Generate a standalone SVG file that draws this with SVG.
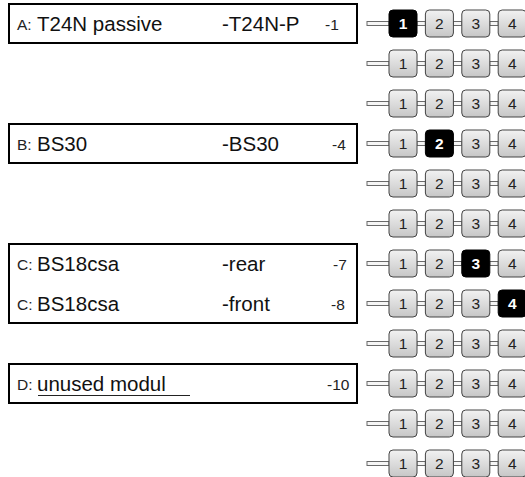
<svg xmlns="http://www.w3.org/2000/svg" width="525" height="477" viewBox="0 0 525 477">
<defs>
<linearGradient id="bg" x1="0" y1="0" x2="0" y2="1">
<stop offset="0" stop-color="#f2f2f2"/>
<stop offset="1" stop-color="#c6c6c6"/>
</linearGradient>
<style>
.box{fill:#fff;stroke:#000;stroke-width:2}
.sm{font-family:"Liberation Sans",Arial,sans-serif;font-size:15.5px;fill:#222}
.lg{font-family:"Liberation Sans",Arial,sans-serif;font-size:20.5px;fill:#111}
.btn{fill:url(#bg);stroke:#444;stroke-width:1}
.sel{fill:#000;stroke:#000;stroke-width:1}
.bn{font-family:"Liberation Sans",Arial,sans-serif;font-size:15.5px;fill:#222;text-anchor:middle}
.bs{font-family:"Liberation Sans",Arial,sans-serif;font-size:15.5px;font-weight:bold;fill:#fff;text-anchor:middle}
.ln{fill:#f6f6f6;stroke:#6a6a6a;stroke-width:1}
</style>
</defs>
<rect width="525" height="477" fill="#fff"/>

<g id="moduleA">
<rect class="box" x="9" y="4" width="348" height="39"/>
<text class="sm" x="17" y="29.5">A:</text>
<text class="lg" x="37" y="30.5">T24N passive</text>
<text class="lg" x="222" y="30.5">-T24N-P</text>
<text class="sm" x="325" y="29.5">-1</text>
</g>
<g id="moduleB">
<rect class="box" x="9" y="124" width="348" height="39"/>
<text class="sm" x="17" y="149.5">B:</text>
<text class="lg" x="37" y="150.5">BS30</text>
<text class="lg" x="222" y="150.5">-BS30</text>
<text class="sm" x="332" y="149.5">-4</text>
</g>
<g id="moduleC">
<rect class="box" x="9" y="244" width="348" height="79"/>
<text class="sm" x="17" y="269.5">C:</text>
<text class="lg" x="37" y="270.5">BS18csa</text>
<text class="lg" x="222" y="270.5">-rear</text>
<text class="sm" x="333" y="269.5">-7</text>
<text class="sm" x="17" y="309.5">C:</text>
<text class="lg" x="37" y="310.5">BS18csa</text>
<text class="lg" x="222" y="310.5">-front</text>
<text class="sm" x="331" y="309.5">-8</text>
</g>
<g id="moduleD">
<rect class="box" x="9" y="364" width="348" height="39"/>
<text class="sm" x="17" y="389.5">D:</text>
<text class="lg" x="37" y="390.5">unused modul</text>
<line x1="38" y1="395.5" x2="190" y2="395.5" stroke="#222" stroke-width="1"/>
<text class="sm" x="327" y="389.5">-10</text>
</g>

<g id="connectors">
<rect class="ln" x="367" y="21.5" width="22" height="4"/><rect class="ln" x="417" y="21.5" width="8.4" height="4"/><rect class="ln" x="453.4" y="21.5" width="8.4" height="4"/><rect class="ln" x="489.8" y="21.5" width="8.4" height="4"/>
<rect class="ln" x="367" y="61.5" width="22" height="4"/><rect class="ln" x="417" y="61.5" width="8.4" height="4"/><rect class="ln" x="453.4" y="61.5" width="8.4" height="4"/><rect class="ln" x="489.8" y="61.5" width="8.4" height="4"/>
<rect class="ln" x="367" y="101.5" width="22" height="4"/><rect class="ln" x="417" y="101.5" width="8.4" height="4"/><rect class="ln" x="453.4" y="101.5" width="8.4" height="4"/><rect class="ln" x="489.8" y="101.5" width="8.4" height="4"/>
<rect class="ln" x="367" y="141.5" width="22" height="4"/><rect class="ln" x="417" y="141.5" width="8.4" height="4"/><rect class="ln" x="453.4" y="141.5" width="8.4" height="4"/><rect class="ln" x="489.8" y="141.5" width="8.4" height="4"/>
<rect class="ln" x="367" y="181.5" width="22" height="4"/><rect class="ln" x="417" y="181.5" width="8.4" height="4"/><rect class="ln" x="453.4" y="181.5" width="8.4" height="4"/><rect class="ln" x="489.8" y="181.5" width="8.4" height="4"/>
<rect class="ln" x="367" y="221.5" width="22" height="4"/><rect class="ln" x="417" y="221.5" width="8.4" height="4"/><rect class="ln" x="453.4" y="221.5" width="8.4" height="4"/><rect class="ln" x="489.8" y="221.5" width="8.4" height="4"/>
<rect class="ln" x="367" y="261.5" width="22" height="4"/><rect class="ln" x="417" y="261.5" width="8.4" height="4"/><rect class="ln" x="453.4" y="261.5" width="8.4" height="4"/><rect class="ln" x="489.8" y="261.5" width="8.4" height="4"/>
<rect class="ln" x="367" y="301.5" width="22" height="4"/><rect class="ln" x="417" y="301.5" width="8.4" height="4"/><rect class="ln" x="453.4" y="301.5" width="8.4" height="4"/><rect class="ln" x="489.8" y="301.5" width="8.4" height="4"/>
<rect class="ln" x="367" y="341.5" width="22" height="4"/><rect class="ln" x="417" y="341.5" width="8.4" height="4"/><rect class="ln" x="453.4" y="341.5" width="8.4" height="4"/><rect class="ln" x="489.8" y="341.5" width="8.4" height="4"/>
<rect class="ln" x="367" y="381.5" width="22" height="4"/><rect class="ln" x="417" y="381.5" width="8.4" height="4"/><rect class="ln" x="453.4" y="381.5" width="8.4" height="4"/><rect class="ln" x="489.8" y="381.5" width="8.4" height="4"/>
<rect class="ln" x="367" y="421.5" width="22" height="4"/><rect class="ln" x="417" y="421.5" width="8.4" height="4"/><rect class="ln" x="453.4" y="421.5" width="8.4" height="4"/><rect class="ln" x="489.8" y="421.5" width="8.4" height="4"/>
<rect class="ln" x="367" y="461.5" width="22" height="4"/><rect class="ln" x="417" y="461.5" width="8.4" height="4"/><rect class="ln" x="453.4" y="461.5" width="8.4" height="4"/><rect class="ln" x="489.8" y="461.5" width="8.4" height="4"/>
</g>

<g id="row1">
<g id="r1b1"><rect class="sel" x="389" y="10" width="28" height="27" rx="4"/><text class="bs" x="403" y="29">1</text></g>
<g id="r1b2"><rect class="btn" x="425.4" y="10" width="28" height="27" rx="4"/><text class="bn" x="439.4" y="29">2</text></g>
<g id="r1b3"><rect class="btn" x="461.8" y="10" width="28" height="27" rx="4"/><text class="bn" x="475.8" y="29">3</text></g>
<g id="r1b4"><rect class="btn" x="498.2" y="10" width="28" height="27" rx="4"/><text class="bn" x="512.2" y="29">4</text></g>
</g>
<g id="row2">
<g id="r2b1"><rect class="btn" x="389" y="50" width="28" height="27" rx="4"/><text class="bn" x="403" y="69">1</text></g>
<g id="r2b2"><rect class="btn" x="425.4" y="50" width="28" height="27" rx="4"/><text class="bn" x="439.4" y="69">2</text></g>
<g id="r2b3"><rect class="btn" x="461.8" y="50" width="28" height="27" rx="4"/><text class="bn" x="475.8" y="69">3</text></g>
<g id="r2b4"><rect class="btn" x="498.2" y="50" width="28" height="27" rx="4"/><text class="bn" x="512.2" y="69">4</text></g>
</g>
<g id="row3">
<g id="r3b1"><rect class="btn" x="389" y="90" width="28" height="27" rx="4"/><text class="bn" x="403" y="109">1</text></g>
<g id="r3b2"><rect class="btn" x="425.4" y="90" width="28" height="27" rx="4"/><text class="bn" x="439.4" y="109">2</text></g>
<g id="r3b3"><rect class="btn" x="461.8" y="90" width="28" height="27" rx="4"/><text class="bn" x="475.8" y="109">3</text></g>
<g id="r3b4"><rect class="btn" x="498.2" y="90" width="28" height="27" rx="4"/><text class="bn" x="512.2" y="109">4</text></g>
</g>
<g id="row4">
<g id="r4b1"><rect class="btn" x="389" y="130" width="28" height="27" rx="4"/><text class="bn" x="403" y="149">1</text></g>
<g id="r4b2"><rect class="sel" x="425.4" y="130" width="28" height="27" rx="4"/><text class="bs" x="439.4" y="149">2</text></g>
<g id="r4b3"><rect class="btn" x="461.8" y="130" width="28" height="27" rx="4"/><text class="bn" x="475.8" y="149">3</text></g>
<g id="r4b4"><rect class="btn" x="498.2" y="130" width="28" height="27" rx="4"/><text class="bn" x="512.2" y="149">4</text></g>
</g>
<g id="row5">
<g id="r5b1"><rect class="btn" x="389" y="170" width="28" height="27" rx="4"/><text class="bn" x="403" y="189">1</text></g>
<g id="r5b2"><rect class="btn" x="425.4" y="170" width="28" height="27" rx="4"/><text class="bn" x="439.4" y="189">2</text></g>
<g id="r5b3"><rect class="btn" x="461.8" y="170" width="28" height="27" rx="4"/><text class="bn" x="475.8" y="189">3</text></g>
<g id="r5b4"><rect class="btn" x="498.2" y="170" width="28" height="27" rx="4"/><text class="bn" x="512.2" y="189">4</text></g>
</g>
<g id="row6">
<g id="r6b1"><rect class="btn" x="389" y="210" width="28" height="27" rx="4"/><text class="bn" x="403" y="229">1</text></g>
<g id="r6b2"><rect class="btn" x="425.4" y="210" width="28" height="27" rx="4"/><text class="bn" x="439.4" y="229">2</text></g>
<g id="r6b3"><rect class="btn" x="461.8" y="210" width="28" height="27" rx="4"/><text class="bn" x="475.8" y="229">3</text></g>
<g id="r6b4"><rect class="btn" x="498.2" y="210" width="28" height="27" rx="4"/><text class="bn" x="512.2" y="229">4</text></g>
</g>
<g id="row7">
<g id="r7b1"><rect class="btn" x="389" y="250" width="28" height="27" rx="4"/><text class="bn" x="403" y="269">1</text></g>
<g id="r7b2"><rect class="btn" x="425.4" y="250" width="28" height="27" rx="4"/><text class="bn" x="439.4" y="269">2</text></g>
<g id="r7b3"><rect class="sel" x="461.8" y="250" width="28" height="27" rx="4"/><text class="bs" x="475.8" y="269">3</text></g>
<g id="r7b4"><rect class="btn" x="498.2" y="250" width="28" height="27" rx="4"/><text class="bn" x="512.2" y="269">4</text></g>
</g>
<g id="row8">
<g id="r8b1"><rect class="btn" x="389" y="290" width="28" height="27" rx="4"/><text class="bn" x="403" y="309">1</text></g>
<g id="r8b2"><rect class="btn" x="425.4" y="290" width="28" height="27" rx="4"/><text class="bn" x="439.4" y="309">2</text></g>
<g id="r8b3"><rect class="btn" x="461.8" y="290" width="28" height="27" rx="4"/><text class="bn" x="475.8" y="309">3</text></g>
<g id="r8b4"><rect class="sel" x="498.2" y="290" width="28" height="27" rx="4"/><text class="bs" x="512.2" y="309">4</text></g>
</g>
<g id="row9">
<g id="r9b1"><rect class="btn" x="389" y="330" width="28" height="27" rx="4"/><text class="bn" x="403" y="349">1</text></g>
<g id="r9b2"><rect class="btn" x="425.4" y="330" width="28" height="27" rx="4"/><text class="bn" x="439.4" y="349">2</text></g>
<g id="r9b3"><rect class="btn" x="461.8" y="330" width="28" height="27" rx="4"/><text class="bn" x="475.8" y="349">3</text></g>
<g id="r9b4"><rect class="btn" x="498.2" y="330" width="28" height="27" rx="4"/><text class="bn" x="512.2" y="349">4</text></g>
</g>
<g id="row10">
<g id="r10b1"><rect class="btn" x="389" y="370" width="28" height="27" rx="4"/><text class="bn" x="403" y="389">1</text></g>
<g id="r10b2"><rect class="btn" x="425.4" y="370" width="28" height="27" rx="4"/><text class="bn" x="439.4" y="389">2</text></g>
<g id="r10b3"><rect class="btn" x="461.8" y="370" width="28" height="27" rx="4"/><text class="bn" x="475.8" y="389">3</text></g>
<g id="r10b4"><rect class="btn" x="498.2" y="370" width="28" height="27" rx="4"/><text class="bn" x="512.2" y="389">4</text></g>
</g>
<g id="row11">
<g id="r11b1"><rect class="btn" x="389" y="410" width="28" height="27" rx="4"/><text class="bn" x="403" y="429">1</text></g>
<g id="r11b2"><rect class="btn" x="425.4" y="410" width="28" height="27" rx="4"/><text class="bn" x="439.4" y="429">2</text></g>
<g id="r11b3"><rect class="btn" x="461.8" y="410" width="28" height="27" rx="4"/><text class="bn" x="475.8" y="429">3</text></g>
<g id="r11b4"><rect class="btn" x="498.2" y="410" width="28" height="27" rx="4"/><text class="bn" x="512.2" y="429">4</text></g>
</g>
<g id="row12">
<g id="r12b1"><rect class="btn" x="389" y="450" width="28" height="27" rx="4"/><text class="bn" x="403" y="469">1</text></g>
<g id="r12b2"><rect class="btn" x="425.4" y="450" width="28" height="27" rx="4"/><text class="bn" x="439.4" y="469">2</text></g>
<g id="r12b3"><rect class="btn" x="461.8" y="450" width="28" height="27" rx="4"/><text class="bn" x="475.8" y="469">3</text></g>
<g id="r12b4"><rect class="btn" x="498.2" y="450" width="28" height="27" rx="4"/><text class="bn" x="512.2" y="469">4</text></g>
</g>
</svg>
